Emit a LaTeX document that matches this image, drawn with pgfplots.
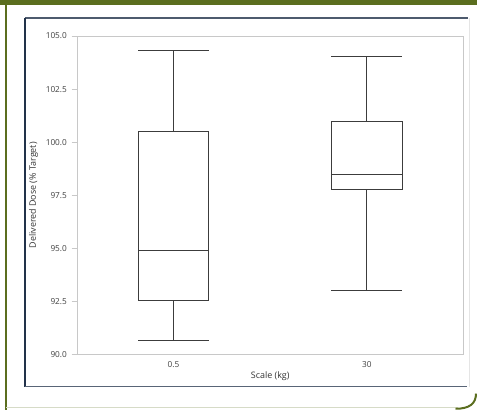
\documentclass[border=0pt]{standalone}
\usepackage{pgfplots}
\pgfplotsset{compat=1.18}
\usepackage{fontspec}
\setmainfont{Open Sans}
\definecolor{olivegr}{HTML}{5B6E1F}
\definecolor{navyb}{HTML}{22324A}
\definecolor{framegray}{HTML}{C8C8C8}
\definecolor{boxgray}{HTML}{3C3C3C}
\begin{document}
\begin{tikzpicture}
\begin{scope}[x=0.75pt,y=0.75pt]
\fill[white] (0,0) rectangle (477,410);
\fill[olivegr] (0,405) rectangle (477,410);
\draw[olivegr, line width=1.5pt] (6,405) -- (6,0);
\draw[olivegr!25!white, line width=0.75pt] (6,2) -- (458,2);
\draw[olivegr, line width=1.5pt] (456,0.8) .. controls (470,0.8) and (476.5,6) .. (476.5,16);
\draw[black!10, line width=0.75pt] (470,392) -- (470,23);
\draw[navyb!80, line width=0.9pt] (25,392) -- (468,392);
\draw[navyb, line width=1.4pt] (25,392) -- (25,23);
\draw[navyb!75, line width=1.2pt] (25,23) -- (467,23);
\end{scope}
\begin{axis}[
  at={(57.75pt,41.25pt)}, anchor=south west,
  scale only axis, width=290.25pt, height=239.25pt,
  xmin=0.5, xmax=2.5, ymin=90, ymax=105,
  xtick={1,2}, xticklabels={0.5,30},
  ytick={90,92.5,95,97.5,100,102.5,105},
  yticklabel style={/pgf/number format/fixed,/pgf/number format/fixed zerofill,/pgf/number format/precision=1},
  /pgf/number format/assume math mode=true,
  tick label style={font=\fontsize{6.2}{7}\selectfont, text=black!75},
  xticklabel style={yshift=2pt},
  label style={font=\fontsize{6.7}{7.5}\selectfont, text=black!80},
  xlabel={Scale (kg)}, ylabel={Delivered Dose (\% Target)},
  xlabel style={yshift=4pt},
  ylabel style={yshift=-1pt},
  axis line style={framegray, line width=0.6pt},
  major x tick style={draw=none},
  major y tick style={framegray, line width=0.5pt},
  tick align=outside, major tick length=4pt,
  xtick pos=bottom, ytick pos=left,
]
% box 1: lw 90.67, q1 92.54, med 94.9, q3 100.49, uw 104.3
\addplot[boxgray, line width=0.8pt, mark=none] coordinates {(0.817,92.54) (1.183,92.54) (1.183,100.49) (0.817,100.49) (0.817,92.54)};
\addplot[boxgray, line width=0.8pt, mark=none] coordinates {(0.817,94.9) (1.183,94.9)};
\addplot[boxgray, line width=0.8pt, mark=none] coordinates {(1,100.49) (1,104.3)};
\addplot[boxgray, line width=0.8pt, mark=none] coordinates {(0.817,104.3) (1.183,104.3)};
\addplot[boxgray, line width=0.8pt, mark=none] coordinates {(1,92.54) (1,90.67)};
\addplot[boxgray, line width=0.8pt, mark=none] coordinates {(0.817,90.67) (1.183,90.67)};
% box 2: lw 93.03, q1 97.76, med 98.5, q3 100.97, uw 104.03
\addplot[boxgray, line width=0.8pt, mark=none] coordinates {(1.817,97.76) (2.183,97.76) (2.183,100.97) (1.817,100.97) (1.817,97.76)};
\addplot[boxgray, line width=0.8pt, mark=none] coordinates {(1.817,98.5) (2.183,98.5)};
\addplot[boxgray, line width=0.8pt, mark=none] coordinates {(2,100.97) (2,104.03)};
\addplot[boxgray, line width=0.8pt, mark=none] coordinates {(1.817,104.03) (2.183,104.03)};
\addplot[boxgray, line width=0.8pt, mark=none] coordinates {(2,97.76) (2,93.03)};
\addplot[boxgray, line width=0.8pt, mark=none] coordinates {(1.817,93.03) (2.183,93.03)};
\end{axis}
\end{tikzpicture}
\end{document}
